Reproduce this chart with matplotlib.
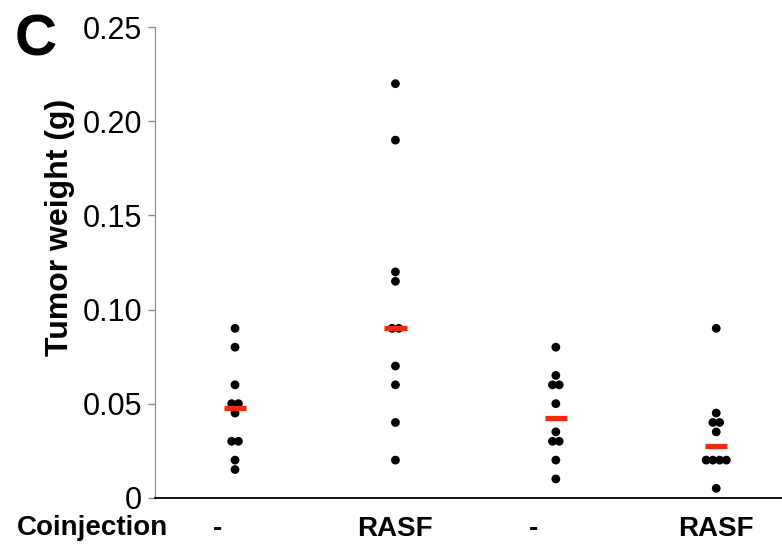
"""
Tumor weight dot plot, panel C
"""

import numpy as np
import matplotlib
matplotlib.use('Agg')
import matplotlib.pyplot as plt

plt.rcParams['font.family'] = ['Liberation Sans', 'DejaVu Sans']

# tumor weights (g) per group
grp1 = [0.09, 0.08, 0.06, 0.05, 0.05, 0.045, 0.03, 0.03, 0.02, 0.015]
grp2 = [0.22, 0.19, 0.12, 0.115, 0.09, 0.09, 0.07, 0.06, 0.04, 0.02]
grp3 = [0.08, 0.065, 0.06, 0.06, 0.05, 0.035, 0.03, 0.03, 0.02, 0.01]
grp4 = [0.09, 0.045, 0.04, 0.04, 0.035, 0.02, 0.02, 0.02, 0.02, 0.005]
groups = [grp1, grp2, grp3, grp4]
labels = ['-', 'RASF', '-', 'RASF']
yticks = [0, 0.05, 0.10, 0.15, 0.20, 0.25]
yticklabels = ['0', '0.05', '0.10', '0.15', '0.20', '0.25']

fig = plt.figure(figsize=(7.82, 5.44), dpi=100)
ax = fig.add_axes([0.198, 0.085, 0.802, 0.865])

step = 0.042  # side offset for equal values
for i, vals in enumerate(groups):
	pos = i + 1
	vals = np.array(vals)
	xs = np.zeros(len(vals))
	for v in np.unique(vals):
		idx = np.where(vals == v)[0]
		n = len(idx)
		xs[idx] = pos + (np.arange(n) - (n - 1) / 2.0) * step
	ax.scatter(xs, vals, s=40, color='black', edgecolor='none', zorder=3)
	# red bar = median
	ax.hlines(np.median(vals), pos - 0.07, pos + 0.07, color='#ee2b0f', lw=3.8, zorder=4)

ax.set_xlim(0.5, 4.41)
ax.set_ylim(0, 0.25)
ax.set_yticks(yticks)
ax.set_yticklabels(yticklabels, fontsize=22)
ax.set_xticks([])
ax.tick_params(axis='y', direction='out', length=5, width=1, color='#888888', pad=4)

ax.spines['top'].set_visible(False)
ax.spines['right'].set_visible(False)
ax.spines['left'].set_color('#888888')
ax.spines['bottom'].set_color('black')
ax.spines['bottom'].set_linewidth(1.3)

ax.set_ylabel('Tumor weight (g)', fontsize=23, fontweight='bold')
ax.yaxis.set_label_coords(-0.128, 0.574)

# group labels under the axis
lab_x = [0.89, 2.0, 2.86, 4.0]
for x, t in zip(lab_x, labels):
	ax.text(x, -0.0165, t, ha='center', va='center', fontsize=20, fontweight='bold')
fig.text(0.118, 0.029, 'Coinjection', ha='center', va='center', fontsize=20, fontweight='bold')
fig.text(0.019, 0.925, 'C', ha='left', va='center', fontsize=42, fontweight='bold')

plt.savefig('out.png', dpi=100)
